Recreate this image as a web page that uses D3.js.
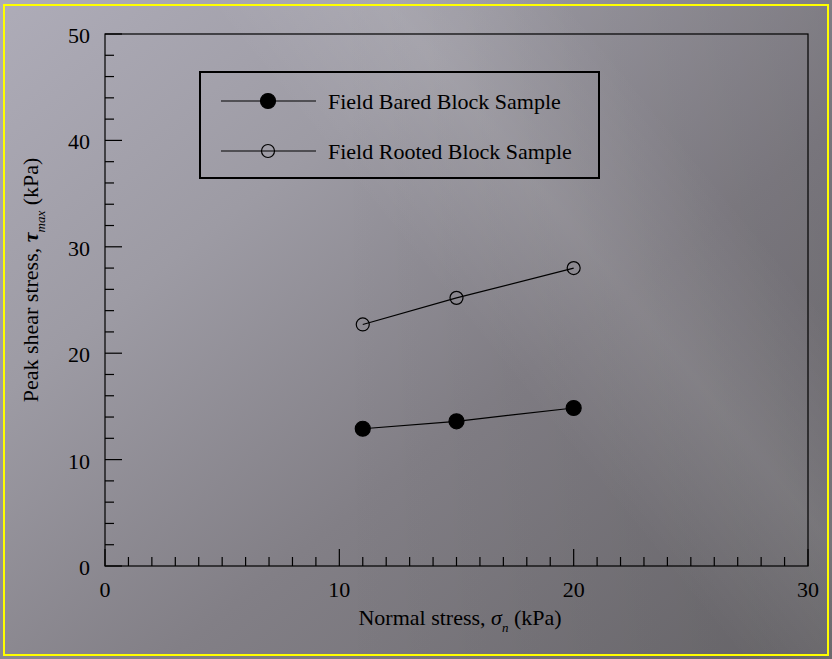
<!DOCTYPE html>
<html>
<head>
<meta charset="utf-8">
<script src="https://cdn.jsdelivr.net/npm/d3@7"></script>
<style>
  body { margin: 0; background: #8a888e; }
  svg { display: block; font-family: "Liberation Serif", "Times New Roman", serif; }
</style>
</head>
<body>
<svg></svg>
<script>
var width = 832, height = 659;
var margin = {top: 34, right: 24, bottom: 93, left: 105};

// data
var normalStress = [11, 15, 20];
var baredPeak = [12.9, 13.6, 14.85];
var rootedPeak = [22.7, 25.2, 28.0];
var seriesNames = ['Field Bared Block Sample', 'Field Rooted Block Sample'];
var xTicks = [0, 10, 20, 30];
var yTicks = [0, 10, 20, 30, 40, 50];

var svg = d3.select('svg')
    .attr('width', width)
    .attr('height', height);

// background
var defs = svg.append('defs');
var bg = defs.append('linearGradient').attr('id', 'bg')
    .attr('x1', '0').attr('y1', '0').attr('x2', '1').attr('y2', '1');
bg.append('stop').attr('offset', '0%').attr('stop-color', '#aeacb8');
bg.append('stop').attr('offset', '30%').attr('stop-color', '#9d9ba4');
bg.append('stop').attr('offset', '60%').attr('stop-color', '#827f86');
bg.append('stop').attr('offset', '100%').attr('stop-color', '#6c6a6e');

var band = defs.append('linearGradient').attr('id', 'band')
    .attr('gradientUnits', 'userSpaceOnUse')
    .attr('x1', 300).attr('y1', 120).attr('x2', 520).attr('y2', -60);
band.append('stop').attr('offset', '0%').attr('stop-color', '#ffffff').attr('stop-opacity', 0);
band.append('stop').attr('offset', '50%').attr('stop-color', '#ffffff').attr('stop-opacity', 0.1);
band.append('stop').attr('offset', '100%').attr('stop-color', '#ffffff').attr('stop-opacity', 0);

var right = defs.append('linearGradient').attr('id', 'rightShade')
    .attr('x1', '0').attr('y1', '0').attr('x2', '1').attr('y2', '0');
right.append('stop').attr('offset', '40%').attr('stop-color', '#000').attr('stop-opacity', 0);
right.append('stop').attr('offset', '100%').attr('stop-color', '#000').attr('stop-opacity', 0.08);

svg.append('rect').attr('width', width).attr('height', height).attr('fill', 'url(#bg)');
svg.append('rect').attr('width', width).attr('height', height).attr('fill', 'url(#rightShade)');
svg.append('rect').attr('width', width).attr('height', height).attr('fill', 'url(#band)');
svg.append('rect')
    .attr('x', 4).attr('y', 5).attr('width', width - 8).attr('height', height - 9)
    .attr('fill', 'none').attr('stroke', '#ffff00').attr('stroke-width', 2);

var x = d3.scaleLinear().domain([0, 30]).range([margin.left, width - margin.right]);
var y = d3.scaleLinear().domain([0, 50]).range([height - margin.bottom, margin.top]);

// frame
svg.append('rect')
    .attr('x', x(0)).attr('y', y(50))
    .attr('width', x(30) - x(0)).attr('height', y(0) - y(50))
    .attr('fill', 'none').attr('stroke', '#000').attr('stroke-width', 1.2);

// x axis: ticks point inward
var xAxis = svg.append('g').attr('transform', 'translate(0,' + y(0) + ')');
xAxis.selectAll('line.minor')
    .data(d3.range(0, 31, 1))
    .enter().append('line')
    .attr('x1', d => x(d)).attr('x2', d => x(d))
    .attr('y1', 0).attr('y2', d => d % 10 === 0 ? -17 : -9)
    .attr('stroke', '#000').attr('stroke-width', 1.2);
xAxis.selectAll('text')
    .data(xTicks)
    .enter().append('text')
    .attr('x', d => x(d)).attr('y', 31)
    .attr('text-anchor', 'middle')
    .style('font-size', '22px')
    .text(d => d);

// y axis
var yAxis = svg.append('g').attr('transform', 'translate(' + x(0) + ',0)');
yAxis.selectAll('line.minor')
    .data(d3.range(0, 51, 2))
    .enter().append('line')
    .attr('y1', d => y(d)).attr('y2', d => y(d))
    .attr('x1', 0).attr('x2', d => d % 10 === 0 ? 17 : 9)
    .attr('stroke', '#000').attr('stroke-width', 1.2);
yAxis.selectAll('text')
    .data(yTicks)
    .enter().append('text')
    .attr('x', -15).attr('y', d => y(d) + 9)
    .attr('text-anchor', 'end')
    .style('font-size', '22px')
    .text(d => d);

// axis titles
var xt = svg.append('text')
    .attr('x', 460).attr('y', 625)
    .attr('text-anchor', 'middle')
    .style('font-size', '22px');
xt.append('tspan').text('Normal stress, ');
xt.append('tspan').style('font-style', 'italic').text('σ');
xt.append('tspan').style('font-style', 'italic').style('font-size', '13px').attr('dy', 7).text('n');
xt.append('tspan').attr('dy', -7).text(' (kPa)');

var yt = svg.append('text')
    .attr('transform', 'translate(38,' + 280 + ') rotate(-90)')
    .attr('text-anchor', 'middle')
    .style('font-size', '22px');
yt.append('tspan').text('Peak shear stress, ');
yt.append('tspan').style('font-style', 'italic').style('font-weight', 'bold').text('τ');
yt.append('tspan').style('font-style', 'italic').style('font-size', '13px').attr('dy', 7).text('max');
yt.append('tspan').attr('dy', -7).text(' (kPa)');

// series
var bared = normalStress.map((d, i) => ({x: d, y: baredPeak[i]}));
var rooted = normalStress.map((d, i) => ({x: d, y: rootedPeak[i]}));
var line = d3.line().x(d => x(d.x)).y(d => y(d.y));

[rooted, bared].forEach(function(s, k) {
  svg.append('path')
      .datum(s)
      .attr('fill', 'none').attr('stroke', '#000').attr('stroke-width', 1.2)
      .attr('d', line);
  svg.selectAll('.pt' + k)
      .data(s)
      .enter().append('circle')
      .attr('cx', d => x(d.x)).attr('cy', d => y(d.y))
      .attr('r', k === 1 ? 7.5 : 6.5)
      .attr('fill', k === 1 ? '#000' : 'none')
      .attr('stroke', '#000').attr('stroke-width', 1.2);
});

// legend
var legend = svg.append('g');
legend.append('rect')
    .attr('x', 200).attr('y', 72).attr('width', 399).attr('height', 106)
    .attr('fill', 'none').attr('stroke', '#000').attr('stroke-width', 2);
var rows = legend.selectAll('g.row')
    .data(seriesNames)
    .enter().append('g')
    .attr('transform', (d, i) => 'translate(0,' + (101 + i * 50) + ')');
rows.append('line')
    .attr('x1', 221).attr('x2', 316).attr('y1', 0).attr('y2', 0)
    .attr('stroke', '#000').attr('stroke-width', 1.2);
rows.append('circle')
    .attr('cx', 268).attr('cy', 0)
    .attr('r', (d, i) => i === 0 ? 7.5 : 6.5)
    .attr('fill', (d, i) => i === 0 ? '#000' : 'none')
    .attr('stroke', '#000').attr('stroke-width', 1.2);
rows.append('text')
    .attr('x', 328).attr('y', 8)
    .style('font-size', '22px')
    .text(d => d);
</script>
</body>
</html>
